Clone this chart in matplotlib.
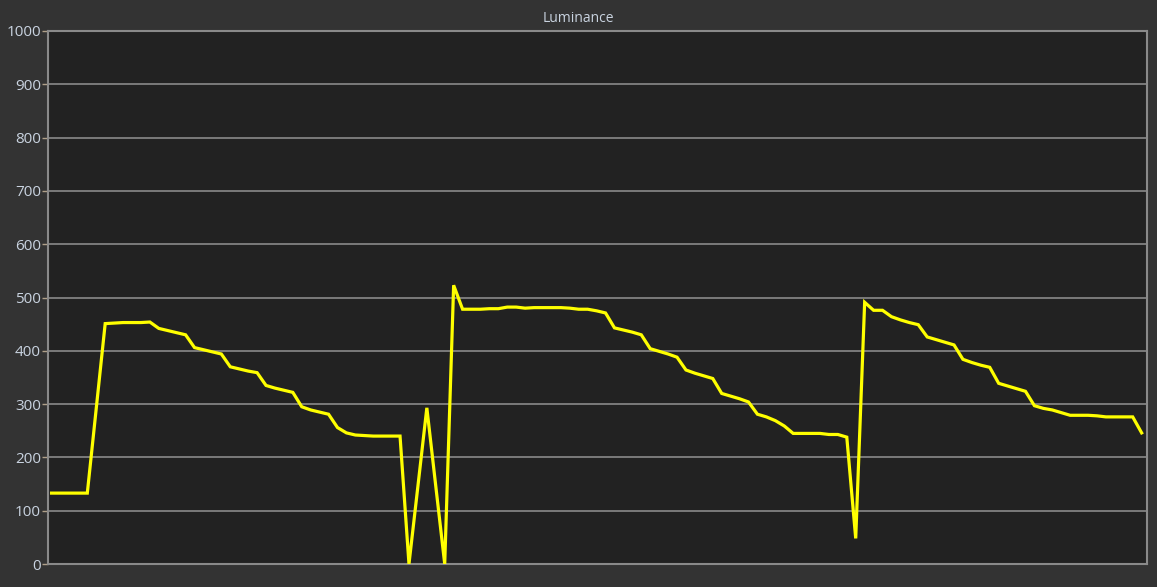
import numpy as np
import matplotlib.pyplot as plt

lum_1 = [133, 133, 133, 133, 133, 292, 451, 452, 453, 453, 453, 454,
         442, 438, 434, 430, 406, 402, 398, 394, 370, 366, 362, 359,
         335, 330, 326, 322, 295, 289, 285, 281, 256, 246, 242, 241,
         240, 240, 240, 240]
lum_2 = [0, 146, 293, 146, 0, 523, 478, 478, 478, 479, 479, 482, 482,
         480, 481, 481, 481, 481, 480, 478, 478, 475, 471, 443, 439,
         435, 430, 404, 399, 394, 388, 364, 358, 353, 348, 320, 315,
         310, 304, 281, 276, 269, 259, 245, 245, 245, 245, 243, 243, 238]
lum_3 = [48, 491, 476, 476, 464, 458, 453, 449, 426, 421, 416, 411,
         384, 378, 373, 369, 339, 334, 329, 324, 297, 292, 289, 284,
         279, 279, 279, 278, 276, 276, 276, 276, 246]

luminance = lum_1 + lum_2 + lum_3
steps = np.arange(len(luminance))
yticks = [0, 100, 200, 300, 400, 500, 600, 700, 800, 900, 1000]

txt = '#c9d3e0'
fig = plt.figure(figsize=(11.57, 5.87), dpi=100, facecolor='#333333')
ax = fig.add_axes([48/1157, 23/587, 1099/1157, 533/587])
ax.set_facecolor('#222222')

ax.plot(steps, luminance, color='#ffff00', lw=2.3, solid_joinstyle='miter', zorder=3)

ax.set_xlim(-0.4, 122.6)
ax.set_ylim(0, 1000)
ax.set_yticks(yticks)
ax.set_xticks([])
ax.yaxis.grid(True, color='#8a8a8a', lw=1.2)
ax.tick_params(axis='y', colors='#b0a08a', labelcolor=txt, labelsize=11,
               length=4, width=1, pad=1)
for tl in ax.get_yticklabels():
    tl.set_fontfamily('Open Sans')
for s in ax.spines.values():
    s.set_color('#8a8a8a')
    s.set_linewidth(1.5)

# title is centred on the whole window, not the plot area
fig.text(0.5, 1 - 19/587, 'Luminance', color=txt, fontsize=10,
         family='Open Sans', ha='center', va='center')

fig.savefig('out.png', dpi=100, facecolor=fig.get_facecolor())
